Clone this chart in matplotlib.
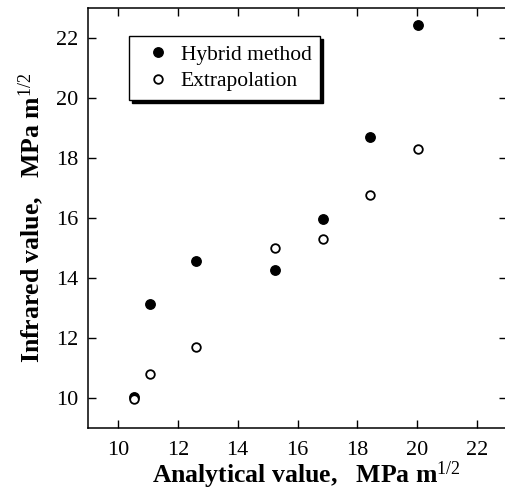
import matplotlib
matplotlib.use('Agg')
import matplotlib.pyplot as plt

# values
analytical = [10.55, 11.07, 12.6, 15.23, 16.85, 18.43, 20.02]
hybrid = [10.05, 13.12, 14.56, 14.26, 15.98, 18.7, 22.42]
extrapolation = [9.96, 10.81, 11.7, 15.0, 15.29, 16.78, 18.29]
ticks = [10, 12, 14, 16, 18, 20, 22]

plt.rcParams['font.family'] = ['Liberation Serif', 'DejaVu Serif']
plt.rcParams['mathtext.fontset'] = 'custom'
plt.rcParams['mathtext.rm'] = 'Liberation Serif'
plt.rcParams['mathtext.bf'] = 'Liberation Serif:bold'
plt.rcParams['mathtext.it'] = 'Liberation Serif:italic'

fig = plt.figure(figsize=(5.05, 4.91), dpi=100)
ax = fig.add_axes([0.1743, 0.1283, 0.83, 0.8554])

ax.plot(analytical, hybrid, 'o', color='black', markersize=6.8, label='Hybrid method')
ax.plot(analytical, extrapolation, 'o', markerfacecolor='white', markeredgecolor='black',
        markeredgewidth=1.3, markersize=6.2, label='Extrapolation')

ax.set_xlim(9, 23)
ax.set_ylim(9, 23)
ax.set_xticks(ticks)
ax.set_yticks(ticks)
ax.tick_params(direction='in', length=6, width=1, top=True, right=True,
               labelsize=16, pad=7)
ax.tick_params(axis='x', pad=9)
for s in ax.spines.values():
    s.set_linewidth(1.1)

ax.set_xlabel(r'Analytical value,   MPa m$^{\mathrm{1/2}}$', fontsize=18.5,
              fontweight='bold', labelpad=1)
ax.xaxis.set_label_coords(0.52, -0.075)
ax.set_ylabel(r'Infrared value,   MPa m$^{\mathrm{1/2}}$', fontsize=18.5,
              fontweight='bold', labelpad=7)

leg = ax.legend(loc='upper left', bbox_to_anchor=(0.098, 0.933), borderaxespad=0,
                fontsize=15.5, frameon=True, fancybox=False, edgecolor='black',
                framealpha=1, shadow={'color': 'black', 'alpha': 1},
                handletextpad=0.1, handlelength=1.9, labelspacing=0.3,
                borderpad=0.4)
leg.get_frame().set_linewidth(1.0)

fig.savefig('out.png', dpi=100)
